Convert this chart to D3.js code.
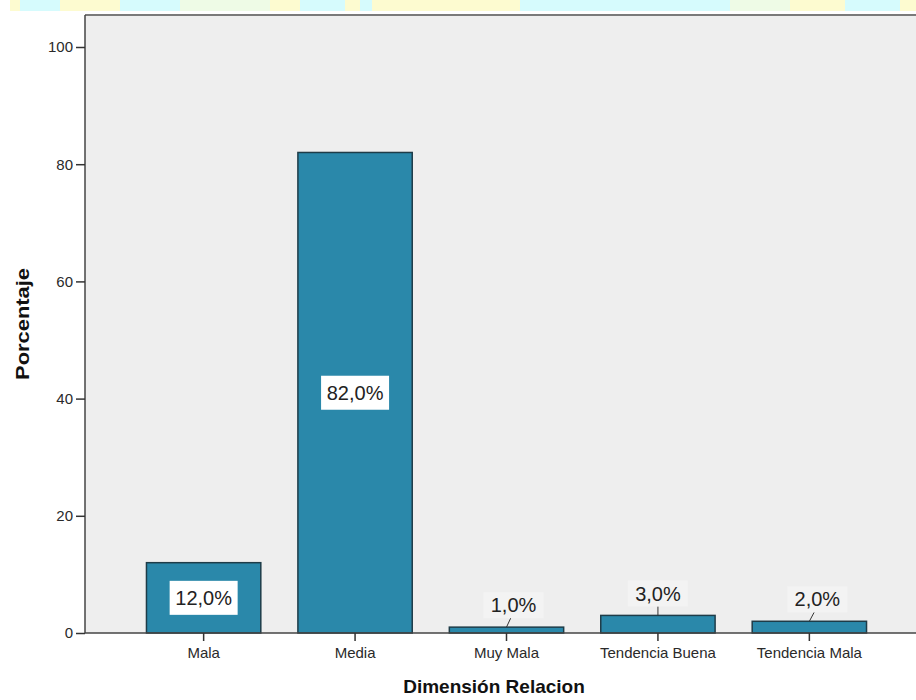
<!DOCTYPE html>
<html>
<head>
<meta charset="utf-8">
<script src="https://cdn.jsdelivr.net/npm/d3@7"></script>
<style>
  html, body { margin: 0; padding: 0; background: #ffffff; }
  svg { display: block; }
</style>
</head>
<body>
<svg id="chart" width="916" height="700"></svg>
<script>
// ---- data ----
const categories = ["Mala", "Media", "Muy Mala", "Tendencia Buena", "Tendencia Mala"];
const percentages = [12.0, 82.0, 1.0, 3.0, 2.0];
const yTicks = [0, 20, 40, 60, 80, 100];
const xTitle = "Dimensión Relacion";
const yTitle = "Porcentaje";

// layout: horizontal nudge of the small outside labels (px)
const labelNudge = [0, 0, 7, 0, 8];

// decorative watermark strip at the top (x-spans and colours)
const stripSegments = [
  [10, 20, "#fdfbd0"], [20, 60, "#d6fbfd"], [60, 120, "#fdfbd0"], [120, 180, "#d6fbfd"],
  [180, 270, "#eefbe6"], [270, 300, "#fdfbd0"], [300, 345, "#d6fbfd"], [345, 360, "#fdfbd0"],
  [360, 372, "#d6fbfd"], [372, 470, "#fdfbd0"], [470, 520, "#fdfbd0"], [520, 730, "#d6fbfd"],
  [730, 790, "#eefbe6"], [790, 845, "#fdfbd0"], [845, 900, "#d6fbfd"], [900, 916, "#fdfbd0"]
];

const FONT = "Liberation Sans, Arial, sans-serif";
const svg = d3.select("#chart");
const fmt = v => d3.format(".1f")(v).replace(".", ",") + "%";

// strip
svg.append("g").selectAll("rect").data(stripSegments).join("rect")
  .attr("x", d => d[0]).attr("y", 0)
  .attr("width", d => d[1] - d[0]).attr("height", 11)
  .attr("fill", d => d[2]);

const plotLeft = 85, plotTop = 15, plotRight = 920, plotBottom = 633;

const x = d3.scaleBand().domain(categories).range([128, 885])
  .paddingInner(0.245).paddingOuter(0.122);
const y = d3.scaleLinear().domain([0, 100]).range([633, 47]);

// plot background
svg.append("rect")
  .attr("x", plotLeft).attr("y", plotTop)
  .attr("width", plotRight - plotLeft).attr("height", plotBottom - plotTop)
  .attr("fill", "#eeeeee");
// top frame line
svg.append("line")
  .attr("x1", plotLeft).attr("x2", plotRight)
  .attr("y1", plotTop).attr("y2", plotTop)
  .attr("stroke", "#7a7a7a").attr("stroke-width", 2);

// bars
svg.append("g").selectAll("rect").data(categories).join("rect")
  .attr("x", d => x(d))
  .attr("y", (d, i) => y(percentages[i]))
  .attr("width", x.bandwidth())
  .attr("height", (d, i) => y(0) - y(percentages[i]))
  .attr("fill", "#2a88aa")
  .attr("stroke", "#1e3c48")
  .attr("stroke-width", 1.5);

// y axis
const yAxis = svg.append("g").attr("transform", `translate(${plotLeft},0)`)
  .call(d3.axisLeft(y).tickValues(yTicks).tickSize(9).tickPadding(3));
yAxis.select(".domain").attr("d", `M0,${plotTop}V${plotBottom}`).attr("stroke", "#444").attr("stroke-width", 1.5);
yAxis.selectAll(".tick line").attr("stroke", "#333").attr("stroke-width", 1.5);
yAxis.selectAll(".tick text")
  .attr("font-family", FONT).attr("font-size", 15).attr("fill", "#2a2a2a");

// x axis
const xAxis = svg.append("g").attr("transform", `translate(0,${plotBottom})`)
  .call(d3.axisBottom(x).tickSize(8).tickPadding(6));
xAxis.select(".domain").attr("d", `M${plotLeft},0H${plotRight}`).attr("stroke", "#444").attr("stroke-width", 1.5);
xAxis.selectAll(".tick line").attr("stroke", "#333").attr("stroke-width", 1.5);
xAxis.selectAll(".tick text")
  .attr("font-family", FONT).attr("font-size", 15).attr("fill", "#2a2a2a");

// value labels
const labels = svg.append("g").selectAll("g").data(categories).join("g")
  .attr("transform", (d, i) => {
    const v = percentages[i];
    const cx = x(d) + x.bandwidth() / 2;
    if (v >= 10) return `translate(${cx},${y(v / 2)})`;
    return `translate(${cx + labelNudge[i]},${y(v) - 22})`;
  });

// leader lines for small bars
labels.filter((d, i) => percentages[i] < 10).append("line")
  .attr("x1", d => -labelNudge[categories.indexOf(d)]).attr("y1", 22)
  .attr("x2", d => -labelNudge[categories.indexOf(d)] * 0.4).attr("y2", 13)
  .attr("stroke", "#333").attr("stroke-width", 1);

labels.each(function(d) {
  const i = categories.indexOf(d);
  const big = percentages[i] >= 10;
  const g = d3.select(this);
  const w = big ? 68 : 60, h = big ? 34 : 26;
  g.append("rect")
    .attr("x", -w / 2).attr("y", -h / 2)
    .attr("width", w).attr("height", h)
    .attr("fill", big ? "#ffffff" : "#f3f3f3");
  g.append("text")
    .attr("text-anchor", "middle").attr("dy", "0.36em")
    .attr("font-family", FONT)
    .attr("font-size", 20).attr("fill", "#222")
    .text(fmt(percentages[i]));
});

// axis titles
svg.append("text")
  .attr("x", 494).attr("y", 693)
  .attr("text-anchor", "middle")
  .attr("font-family", FONT)
  .attr("font-weight", "bold").attr("font-size", 19).attr("fill", "#111")
  .text(xTitle);
svg.append("text")
  .attr("transform", `translate(29,${(plotTop + plotBottom) / 2}) rotate(-90)`)
  .attr("text-anchor", "middle")
  .attr("font-family", FONT)
  .attr("font-weight", "bold").attr("font-size", 19).attr("fill", "#111")
  .attr("textLength", 112).attr("lengthAdjust", "spacingAndGlyphs")
  .text(yTitle);
</script>
</body>
</html>
